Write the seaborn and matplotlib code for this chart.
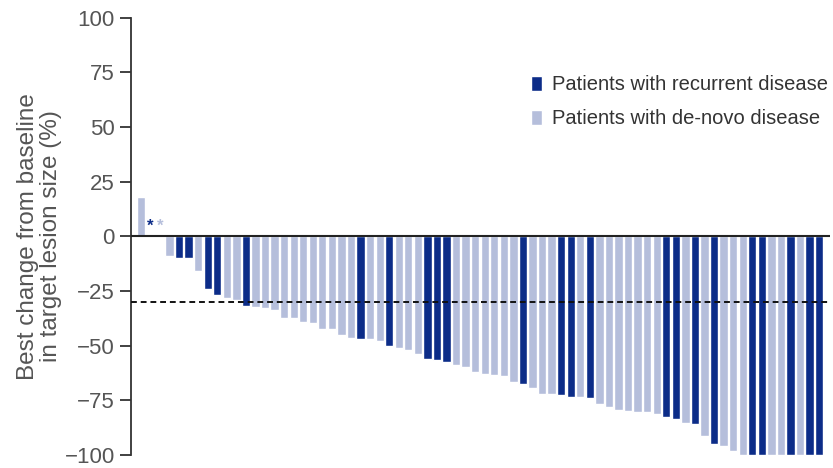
import matplotlib
matplotlib.use("Agg")
import matplotlib.pyplot as plt
import seaborn as sns
import pandas as pd

# best % change per patient, sorted (waterfall)
best_change = [18, 0, 0, -9, -10, -10, -16, -24, -27, -28, -29, -32,
               -32.5, -33, -33.5, -37.5, -37.5, -39, -39.5, -42.5, -42.5, -45, -46.5,
               -47, -47, -48, -50, -51, -52, -54, -56, -56.5, -57.5,
               -59, -60, -62, -63, -63.5, -64, -66.5,
               -67.5, -69.5, -72, -72, -72.5, -73.5, -73.5, -74,
               -76.5, -78, -79.5, -80, -80.5, -80.5, -81.5,
               -82.5, -83.5, -85.5, -86, -91.5, -95, -96, -98, -100, -100, -100,
               -100, -100, -100, -100, -100, -100]
# R = recurrent disease, D = de-novo disease
group_codes = ("DRDDRRDRRDDR" "DDDDDDDDDDD" "RDDRDDDRRR" "DDDDDDD"
               "RDDDRRDR" "DDDDDDD" "RRDRDRDDDRRDDRDRR")
group_names = {"R": "Patients with recurrent disease", "D": "Patients with de-novo disease"}
zero_marked = [1, 2]  # patients shown with an asterisk at 0%

df = pd.DataFrame({"patient": range(len(best_change)),
                   "change": best_change,
                   "group": [group_names[c] for c in group_codes]})

dark = "#0c2c88"
light = "#b5bedb"
txt = "#555555"

sns.set_style("white")
plt.rcParams["font.family"] = ["Liberation Sans", "DejaVu Sans"]

fig = plt.figure(figsize=(8.33, 4.68), dpi=100)
ax = fig.add_axes([0.157, 0.028, 0.839, 0.934])

sns.barplot(data=df, x="patient", y="change", hue="group",
            hue_order=[group_names["R"], group_names["D"]],
            palette=[dark, light], dodge=False, width=0.87, saturation=1, ax=ax)

for i in zero_marked:
    col = dark if group_codes[i] == "R" else light
    ax.text(i, 1, "*", color=col, ha="center", va="bottom", fontsize=12, fontweight="bold")

ax.axhline(0, color="#222222", lw=1.5, zorder=3)
ax.axhline(-30, color="#111111", lw=1.4, ls=(0, (3, 2)), zorder=3)

ax.set_xlim(-1.05, 72.1)
ax.set_ylim(-100, 100)
ax.set_yticks(range(-100, 101, 25))
ax.set_xticks([])
ax.set_xlabel("")
ax.set_ylabel("Best change from baseline\nin target lesion size (%)", color=txt,
              fontsize=17.5, labelpad=2, linespacing=1.05)
ax.tick_params(axis="y", length=8, width=1.3, color="#333333", labelcolor=txt,
               labelsize=16, direction="out", left=True)
for s in ["top", "right", "bottom"]:
    ax.spines[s].set_visible(False)
ax.spines["left"].set_color("#333333")
ax.spines["left"].set_linewidth(1.3)

handles, labels = ax.get_legend_handles_labels()
ax.legend(handles, labels, loc="upper right", bbox_to_anchor=(1.024, 0.91),
          frameon=False, fontsize=14.5, handlelength=0.55, handleheight=0.8,
          handletextpad=0.5, labelspacing=0.75, labelcolor="#333333")

fig.savefig("out.png", dpi=100)
